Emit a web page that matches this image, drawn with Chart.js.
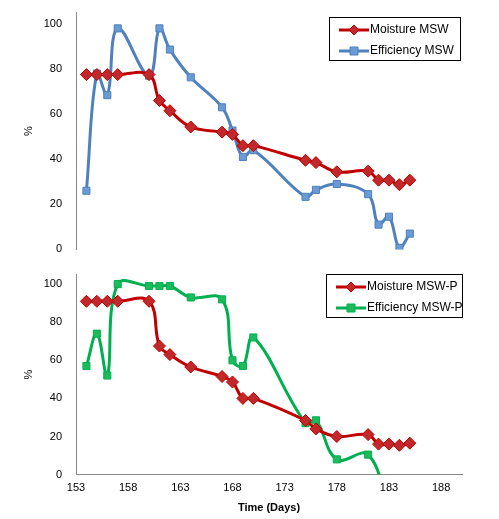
<!DOCTYPE html>
<html><head><meta charset="utf-8">
<script src="https://cdn.jsdelivr.net/npm/chart.js@4"></script>
<style>body{margin:0;background:#fff}#w1{position:absolute;left:0;top:0;width:499px;height:262px}#w2{position:absolute;left:0;top:262px;width:499px;height:257px}</style>
</head><body>
<div id="w1"><canvas id="c1"></canvas></div>
<div id="w2"><canvas id="c2"></canvas></div>
<script>
const daysTop = [154,155,156,157,160,161,162,164,167,168,169,170,175,176,178,181,182,183,184,185];
const moistureMSW = [77.5,77.5,77.5,77.5,77.5,66,61.5,54.3,52,51,46,46,39.5,38.5,34.4,34.7,30.7,30.7,28.7,30.7];
const efficiencyMSW = [26,78,68.4,98,77,98,88.6,76.3,63,52.7,41,44,23.3,26.4,29,24.5,11,14.5,0.7,7];
const daysMoistP = [154,155,156,157,160,161,162,164,167,168,169,170,175,176,178,181,182,183,184,185];
const moistureMSWP = [91,91,91,91,91,67.5,63,56.5,51.5,48.6,40,40,28.4,24,20,21,16,16,15.4,16.5];
const daysEffP = [154,155,156,157,160,161,162,164,167,168,169,170,175,176,178,181,183];
const efficiencyMSWP = [57,74,52,100,99,99,99,93,92,60,57,72,27,28.5,8,10.5,-20];
const xTicks = [153,158,163,168,173,178,183,188];
const yTicks = [0,20,40,60,80,100];

const font = {family:'"Liberation Sans", Arial, sans-serif', size:11};
Chart.defaults.color = '#000';

const legendPlugin = {
  id:'boxLegend',
  afterDraw(chart, args, o){
    const c = chart.ctx;
    c.save();
    c.fillStyle='#fff'; c.fillRect(o.x,o.y,o.w,o.h);
    c.strokeStyle='#000'; c.lineWidth=1; c.strokeRect(o.x+0.5,o.y+0.5,o.w,o.h);
    chart.data.datasets.forEach((d,i)=>{
      const yy = o.y + 13 + i*21;
      c.strokeStyle=d.borderColor; c.lineWidth=3;
      c.beginPath(); c.moveTo(o.x+10,yy); c.lineTo(o.x+40,yy); c.stroke();
      c.fillStyle=d.pointBackgroundColor; c.strokeStyle=d.pointBorderColor; c.lineWidth=1;
      c.beginPath();
      if(d.pointStyle==='rectRot'){c.moveTo(o.x+25,yy-5);c.lineTo(o.x+30,yy);c.lineTo(o.x+25,yy+5);c.lineTo(o.x+20,yy);c.closePath();}
      else c.rect(o.x+21,yy-4,8,8);
      c.fill(); c.stroke();
      c.fillStyle='#000'; c.font='12px "Liberation Sans", Arial, sans-serif'; c.textBaseline='middle';
      c.fillText(d.label,o.x+41,yy);
    });
    c.restore();
  }
};

function ds(label,xs,ys,color,ptColor,style){
  return {label,data:xs.map((x,i)=>({x,y:ys[i]})),borderColor:color,borderWidth:3,tension:0.4,
    pointStyle:style,pointRadius:style==='rectRot'?6:5,pointBackgroundColor:ptColor,pointBorderColor:color,pointBorderWidth:1};
}
function opts(showX, legend){
  return {responsive:true,maintainAspectRatio:false,animation:false,
    layout:{padding:{left:20,right:37,top:showX?10:10,bottom:showX?0:12}},
    plugins:{legend:{display:false},tooltip:{enabled:false},boxLegend:legend},
    scales:{
      x:{type:'linear',min:153,max:190,display:showX,
        afterBuildTicks:a=>{a.ticks=xTicks.map(v=>({value:v}));},
        grid:{display:false,drawTicks:true,tickLength:4,color:'#888'},border:{color:'#888'},
        ticks:{font},title:{display:true,text:'Time (Days)',font:{...font,weight:'bold'},padding:{top:4}}},
      y:{min:0,max:105,afterBuildTicks:a=>{a.ticks=yTicks.map(v=>({value:v}));},
        afterFit:a=>{a.width=56;},
        grid:{display:false},border:{color:'#888'},ticks:{font,padding:6},
        title:{display:true,text:'%',font,padding:2}}
    }};
}
new Chart(document.getElementById('c1'),{type:'line',plugins:[legendPlugin],
  data:{datasets:[ds('Moisture MSW',daysTop,moistureMSW,'#C00000','#C0282B','rectRot'),
                  ds('Efficiency MSW',daysTop,efficiencyMSW,'#4F81BD','#6A9BD4','rect')]},
  options:opts(false,{x:329,y:17,w:131,h:43})});
new Chart(document.getElementById('c2'),{type:'line',plugins:[legendPlugin],
  data:{datasets:[ds('Moisture MSW-P',daysMoistP,moistureMSWP,'#C00000','#C0282B','rectRot'),
                  ds('Efficiency MSW-P',daysEffP,efficiencyMSWP,'#00B050','#1DBA5C','rect')]},
  options:opts(true,{x:326,y:12,w:136,h:43})});
</script>
</body></html>
